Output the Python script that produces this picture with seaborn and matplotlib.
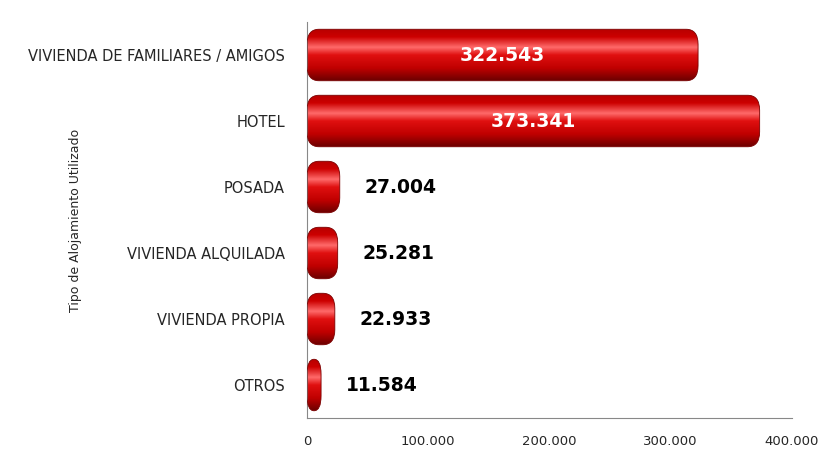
import numpy as np
import pandas as pd
import seaborn as sns
import matplotlib.pyplot as plt
from matplotlib.patches import FancyBboxPatch
from matplotlib.colors import LinearSegmentedColormap
from matplotlib.ticker import FuncFormatter, FixedLocator


categorias = ["VIVIENDA DE FAMILIARES / AMIGOS", "HOTEL", "POSADA",
              "VIVIENDA ALQUILADA", "VIVIENDA PROPIA", "OTROS"]
valores = [322543, 373341, 27004, 25281, 22933, 11584]
etiquetas = ["322.543", "373.341", "27.004", "25.281", "22.933", "11.584"]

df = pd.DataFrame({"tipo": categorias, "valor": valores})

sns.set_style("white")
plt.rcParams["font.family"] = ["DejaVu Sans"]

fig = plt.figure(figsize=(8.26, 4.49), dpi=100)
ax = fig.add_axes([0.3717, 0.069, 0.5871, 0.882])

sns.barplot(data=df, x="valor", y="tipo", color="#cc0000", width=0.78, ax=ax)
ax.set_xlim(0, 400000)

# sombreado tipo cilindro
cmap = LinearSegmentedColormap.from_list(
    "rojo", [(0, "#b80000"), (0.15, "#cc0000"), (0.35, "#ff6a6a"),
             (0.5, "#e01010"), (0.75, "#c00000"), (1, "#6a0000")])
grad = np.linspace(0, 1, 256).reshape(-1, 1)

fig.canvas.draw()
inv = ax.transData.inverted()
p0 = inv.transform((0, 0))
p1 = inv.transform((1, 1))
x_per_px = abs(p1[0] - p0[0])
y_per_px = abs(p1[1] - p0[1])

for bar in list(ax.patches):
    x, y = bar.get_x(), bar.get_y()
    w, h = bar.get_width(), bar.get_height()
    bar.set_visible(False)
    r = min(12 * x_per_px, w / 2)
    box = FancyBboxPatch((x, y), w, h,
                         boxstyle=f"round,pad=0,rounding_size={r}",
                         mutation_aspect=(15 * y_per_px) / r,
                         facecolor="none", edgecolor="#7a0000", lw=0.6, zorder=3)
    ax.add_patch(box)
    img = ax.imshow(grad, cmap=cmap, aspect="auto",
                    extent=(x, x + w, y + h, y), zorder=2, interpolation="bilinear")
    img.set_clip_path(box)

ax.set_xlim(0, 400000)
ax.set_ylim(5.5, -0.5)

for i, (v, t) in enumerate(zip(valores, etiquetas)):
    if v > 100000:
        ax.text(v / 2, i, t, ha="center", va="center", color="white",
                fontsize=13.5, fontweight="bold", zorder=5)
    else:
        ax.text(v + 50000, i, t, ha="center", va="center", color="black",
                fontsize=13.5, fontweight="bold", zorder=5)

ax.xaxis.set_major_formatter(FuncFormatter(lambda v, p: f"{int(v):,}".replace(",", ".")))
ax.set_xticks([0, 100000, 200000, 300000, 400000])
ax.tick_params(axis="x", length=4, color="#888888", labelsize=9.5, pad=8)
ax.tick_params(axis="y", which="major", length=0, labelsize=10.5, pad=16)
ax.yaxis.set_minor_locator(FixedLocator(np.arange(-0.5, 6, 1)))
ax.tick_params(axis="y", which="minor", length=4, color="#888888")

for s in ["top", "right"]:
    ax.spines[s].set_visible(False)
for s in ["left", "bottom"]:
    ax.spines[s].set_color("#888888")
    ax.spines[s].set_linewidth(0.8)

ax.set_xlabel("")
ax.set_ylabel("Tipo de Alojamiento Utilizado", fontsize=9)
ax.yaxis.set_label_coords(-0.465, 0.5)

fig.savefig("out.png", dpi=100)
